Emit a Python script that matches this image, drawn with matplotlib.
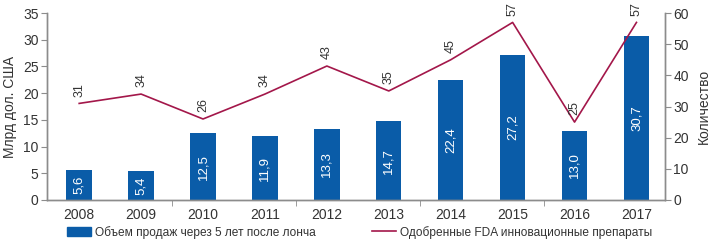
import matplotlib
matplotlib.use("Agg")
import matplotlib.pyplot as plt
import numpy as np
from matplotlib.lines import Line2D
from matplotlib.patches import Patch

years = ["2008", "2009", "2010", "2011", "2012", "2013", "2014", "2015", "2016", "2017"]
sales = [5.6, 5.4, 12.5, 11.9, 13.3, 14.7, 22.4, 27.2, 13.0, 30.7]
approvals = [31, 34, 26, 34, 43, 35, 45, 57, 25, 57]

BAR = "#0a5ca8"
LINE = "#a3174a"
GREY = "#8c8c8c"
TXT = "#333333"

plt.rcParams["font.family"] = ["Liberation Sans Narrow", "Liberation Sans", "DejaVu Sans"]

fig = plt.figure(figsize=(7.15, 2.42), dpi=100)
ax = fig.add_axes([0.0657, 0.1736, 0.8643, 0.7724])
ax2 = ax.twinx()

x = np.arange(len(years))
ax.bar(x, sales, width=0.41, color=BAR, zorder=2)
for xi, v in zip(x, sales):
    ax.text(xi, v / 2, f"{v:.1f}".replace(".", ","), rotation=90, color="white",
            ha="center", va="center", fontsize=9.5, zorder=3)

ax2.plot(x, approvals, color=LINE, lw=1.2)
for xi, v in zip(x, approvals):
    ax2.text(xi, v + 2.2, str(v), rotation=90, color=TXT, ha="center", va="bottom", fontsize=9)

ax.set_xlim(-0.52, 9.46)
ax.set_ylim(0, 35)
ax2.set_ylim(0, 60)
ax.set_yticks(range(0, 36, 5))
ax2.set_yticks(range(0, 61, 10))
ax.set_xticks(x)
ax.set_xticklabels(years)
ax.set_xticks([1.5, 3.5, 5.5, 7.5], minor=True)

for a in (ax, ax2):
    a.spines["top"].set_visible(False)
    for s in ("left", "right", "bottom"):
        a.spines[s].set_color(GREY)
        a.spines[s].set_linewidth(1.0)
ax.tick_params(axis="x", which="major", length=0, pad=6, labelsize=10, labelcolor=TXT)
ax.tick_params(axis="x", which="minor", length=4, color=GREY, direction="out")
ax.tick_params(axis="y", length=4, color=GREY, labelsize=10, labelcolor=TXT, pad=2)
ax2.tick_params(axis="y", length=4, color=GREY, labelsize=10, labelcolor=TXT, pad=2)

ax.set_ylabel("Млрд дол. США", fontsize=10, color=TXT, labelpad=4)
ax2.set_ylabel("Количество", fontsize=10, color=TXT, labelpad=6)

leg_opts = dict(loc="center left", frameon=False, fontsize=8.6, handlelength=2.0,
                handleheight=0.85, handletextpad=0.35, borderpad=0, borderaxespad=0,
                labelcolor=TXT)
leg1 = fig.legend([Patch(color=BAR)], ["Объем продаж через 5 лет после лонча"],
                  bbox_to_anchor=(67 / 715, 0.041), **leg_opts)
fig.legend([Line2D([0], [0], color=LINE, lw=1.2)], ["Одобренные FDA инновационные препараты"],
           bbox_to_anchor=(372 / 715, 0.041), **leg_opts)

fig.savefig("out.png", dpi=100)
